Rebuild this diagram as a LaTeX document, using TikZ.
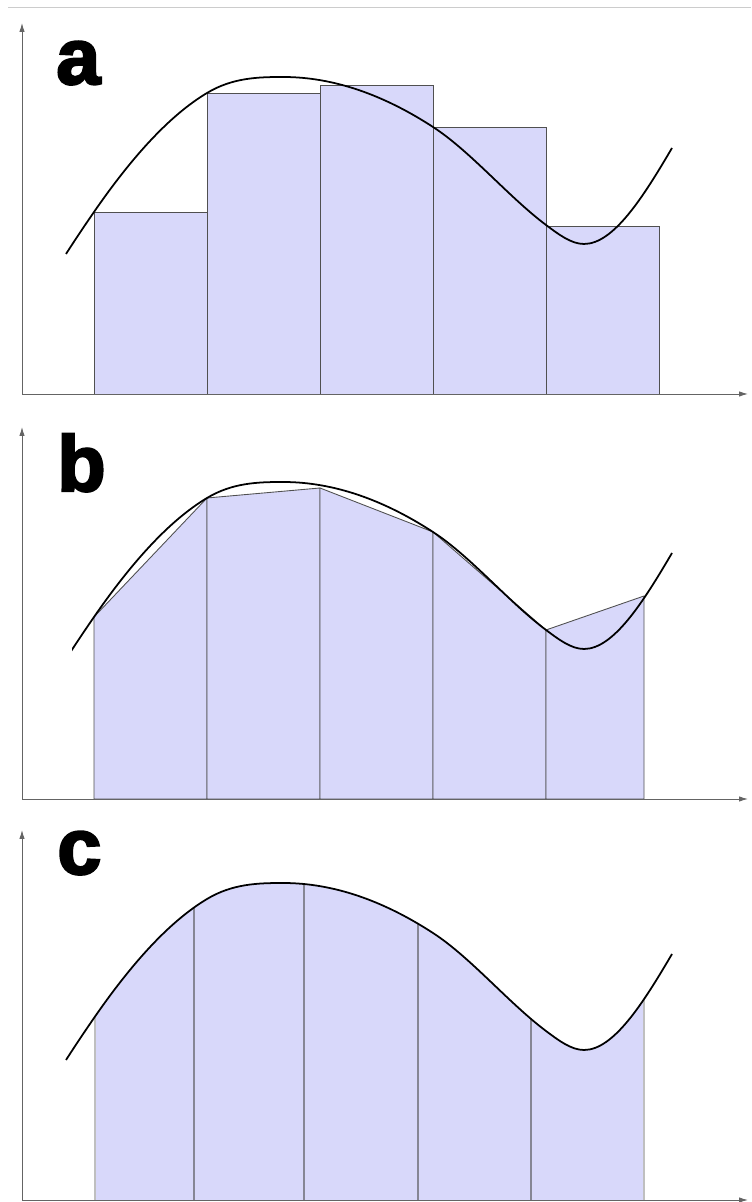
\documentclass[tikz,border=0pt]{standalone}
\usepackage{fontspec}
\newfontfamily\panelfont[FakeBold=3]{Liberation Sans Bold}
\usepackage{tikz}
\usetikzlibrary{arrows.meta}
\usepackage{xcolor}

\definecolor{barfill}{RGB}{216,216,250}
\definecolor{bardraw}{RGB}{80,80,80}
\definecolor{axisgray}{RGB}{100,100,100}

% the function, as one smooth path
\def\fcurve{(66,140) .. controls (75.3,154.5) and (84.7,168.5) .. (94,182)
	.. controls (131.7,236.6) and (169.3,278.4) .. (207,301)
	.. controls (232.3,316.2) and (257.7,317) .. (283,317)
	.. controls (333,317) and (383,299.5) .. (433,267)
	.. controls (470.7,242.5) and (508.3,197.3) .. (546,169)
	.. controls (558.7,159.5) and (571.3,150) .. (584,150)
	.. controls (613.3,150) and (642.7,196) .. (672,246)}

\begin{document}
\begin{tikzpicture}[x=0.02cm,y=0.02cm,>={Latex[length=5pt,width=3pt]},
	bar/.style={fill=barfill,draw=bardraw,line width=0.5pt},
	axis/.style={->,draw=axisgray,line width=0.5pt},
	fn/.style={draw=black,line width=1pt},
	lbl/.style={anchor=base west,inner sep=0pt,font=\panelfont\fontsize{45}{45}\selectfont}]
	
	\useasboundingbox (0,0) rectangle (751,1202);
	\draw[gray!40] (8,1195) -- (751,1195);
	
	% Panel a: left rectangles
	\begin{scope}[shift={(0,808)}]
		\foreach \xl/\xr/\h in {94/207/182,207/320/301,320/433/309,433/546/267,546/659/168}
		{
			\draw[bar] (\xl,0) rectangle (\xr,\h);
		}
		\draw[axis] (22,0) -- (748,0);
		\draw[axis] (22,0) -- (22,371);
		\draw[fn] \fcurve;
		\node[lbl] (labela) at (56,310) {a};
	\end{scope}
	
	% Panel b: trapezoids
	\begin{scope}[shift={(0,403)}]
		\foreach \xl/\hl/\xr/\hr in {94/182/207/301,207/301/320/311,320/311/433/267,433/267/546/169,546/169/644/203}
		{
			\draw[bar] (\xl,0) -- (\xl,\hl) -- (\xr,\hr) -- (\xr,0) -- cycle;
		}
		\draw[axis] (22,0) -- (748,0);
		\draw[axis] (22,0) -- (22,372);
		\begin{scope}
			\clip (72,-5) rectangle (700,400);
			\draw[fn] \fcurve;
		\end{scope}
		\node[lbl] (labelb) at (57,308) {b};
	\end{scope}
	
	% Panel c: parabolas
	\begin{scope}[shift={(0,2)}]
		\begin{scope}
			\clip (95,0) rectangle (644,400);
			\fill[barfill] \fcurve -- (672,0) -- (66,0) -- cycle;
		\end{scope}
		\begin{scope}
			\clip \fcurve -- (672,0) -- (66,0) -- cycle;
			\foreach \x in {194,304,418,531}
			{
				\draw[bardraw!60!barfill,line width=0.8pt] (\x,0) -- (\x,400);
			}
			\foreach \x in {95,644}
			{
				\draw[gray!50,line width=0.8pt] (\x,0) -- (\x,400);
			}
		\end{scope}
		\draw[axis] (22,0) -- (748,0);
		\draw[axis] (22,0) -- (22,370);
		\draw[fn] \fcurve;
		\node[lbl] (labelc) at (57,326) {c};
	\end{scope}
	
\end{tikzpicture}
\end{document}
